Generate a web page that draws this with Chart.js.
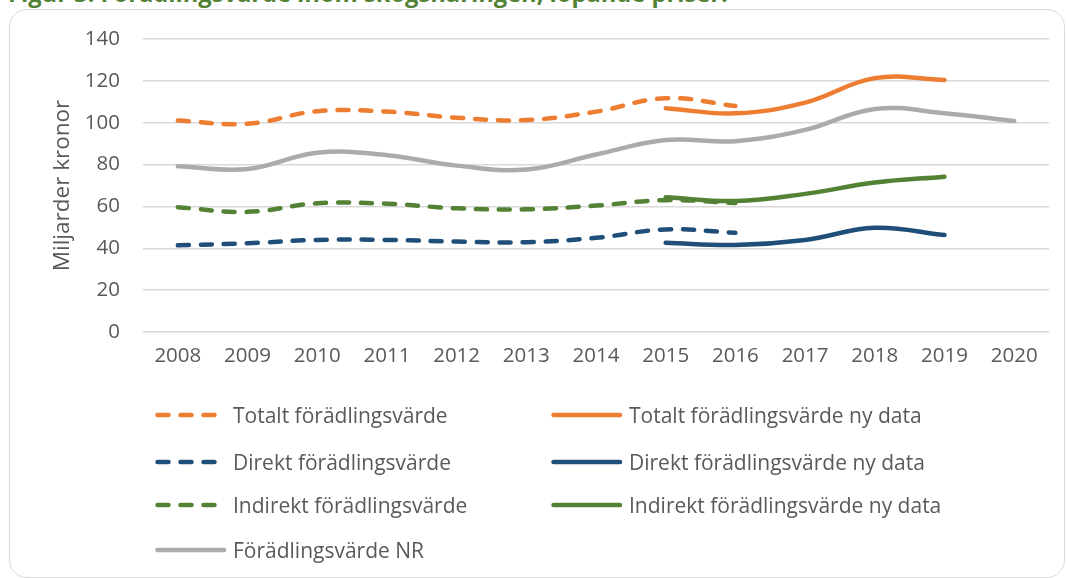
<!DOCTYPE html>
<html>
<head>
<meta charset="utf-8">
<script src="https://cdn.jsdelivr.net/npm/chart.js@4.4.1/dist/chart.umd.min.js"></script>
<style>
  html, body { margin:0; padding:0; background:#fff; width:1066px; height:578px; overflow:hidden; font-family: "Open Sans", sans-serif; }
  #title { position:absolute; left:8px; top:-22px; font-size:23.7px; line-height:30px; font-weight:bold; color:#548235; white-space:nowrap; font-family:"Open Sans", sans-serif; }
  #frame { position:absolute; left:9px; top:9px; width:1056px; height:569px; border:1.5px solid #d9d9d9; border-radius:18px; box-sizing:border-box; }
  #wrap { position:absolute; left:0; top:0; width:1066px; height:400px; }
  #legend { position:absolute; left:0; top:0; width:1066px; height:578px; pointer-events:none; }
  .li { position:absolute; height:26px; font-size:21px; line-height:26px; color:#595959; white-space:nowrap; }
  .li canvas { position:absolute; top:8px; }
  .li span { position:absolute; top:0; }
</style>
</head>
<body>
<div id="title">Figur 3. Förädlingsvärde inom skogsnäringen, löpande priser.</div>
<div id="frame"></div>
<div id="wrap"><canvas id="c" width="1066" height="400"></canvas></div>
<div id="legend"></div>
<script>
const years = ['2008','2009','2010','2011','2012','2013','2014','2015','2016','2017','2018','2019','2020'];
const yTicks = [0,20,40,60,80,100,120,140];
const totalt       = [101, 99.5, 105.5, 105.3, 102.4, 101.3, 105.3, 111.7, 108, null, null, null, null];
const totaltNy     = [null, null, null, null, null, null, null, 106.9, 104.5, 109.6, 121.3, 120.4, null];
const direkt       = [41.4, 42.4, 44, 44, 43.2, 42.9, 45, 49, 47.4, null, null, null, null];
const direktNy     = [null, null, null, null, null, null, null, 42.6, 41.6, 44, 49.8, 46.3, null];
const indirekt     = [59.6, 57.4, 61.5, 61.3, 59.1, 58.6, 60.4, 63, 61.6, null, null, null, null];
const indirektNy   = [null, null, null, null, null, null, null, 64.4, 62.6, 66, 71.4, 74.2, null];
const nr           = [79.2, 77.9, 85.7, 84.5, 79.5, 77.6, 84.8, 91.7, 91.2, 96.6, 106.6, 104.5, 100.8];

const ORANGE = '#ED7D31', BLUE = '#1F4E79', GREEN = '#548235', GRAY = '#AEAAAA';
const DASH = [11, 12];

function ds(label, data, color, dashed, order) {
  return { label, data, borderColor: color, backgroundColor: color, borderWidth: 4.5,
    borderDash: dashed ? DASH : [], borderCapStyle: 'round', borderJoinStyle: 'round',
    pointRadius: 0, pointHoverRadius: 0, tension: 0.4, spanGaps: false, fill: false, order };
}

const datasets = [
  ds('Totalt förädlingsvärde', totalt, ORANGE, true, 1),
  ds('Totalt förädlingsvärde ny data', totaltNy, ORANGE, false, 2),
  ds('Direkt förädlingsvärde', direkt, BLUE, true, 3),
  ds('Direkt förädlingsvärde ny data', direktNy, BLUE, false, 4),
  ds('Indirekt förädlingsvärde', indirekt, GREEN, true, 5),
  ds('Indirekt förädlingsvärde ny data', indirektNy, GREEN, false, 6),
  ds('Förädlingsvärde NR', nr, GRAY, false, 7)
];

const font = { family: '"Open Sans", sans-serif', size: 20.5 };

const chart = new Chart(document.getElementById('c'), {
  type: 'line',
  data: { labels: years, datasets },
  options: {
    responsive: false, animation: false,
    layout: { padding: { left: 49, right: 17, top: 39, bottom: 0 } },
    plugins: { legend: { display: false }, tooltip: { enabled: false } },
    scales: {
      x: {
        offset: true,
        grid: { display: false, drawTicks: false },
        border: { display: false },
        ticks: { color: '#595959', font, padding: 12, maxRotation: 0, autoSkip: false },
        afterFit(s) { s.height = 400 - 332; }
      },
      y: {
        min: 0, max: 140,
        afterBuildTicks(s) { s.ticks = yTicks.map(v => ({ value: v })); },
        grid: { color: '#d9d9d9', lineWidth: 1.5, drawTicks: false },
        border: { display: false },
        ticks: { color: '#595959', font, padding: 23 },
        title: { display: true, text: 'Miljarder kronor', color: '#595959', font: { family: font.family, size: 22.5 }, padding: 0 },
        afterFit(s) { s.width = 143 - 49; }
      }
    }
  }
});

// HTML legend built from the chart's datasets
const legendPos = [
  [157, 415], [553, 415],
  [157, 462], [553, 462],
  [157, 505], [553, 505],
  [157, 550]
];
const leg = document.getElementById('legend');
chart.data.datasets.forEach((d, i) => {
  const item = document.createElement('div');
  item.className = 'li';
  const dashed = d.borderDash && d.borderDash.length;
  const w = dashed ? 66 : 74;
  const textX = 80;
  const cv = document.createElement('canvas');
  cv.width = w; cv.height = 10;
  const g = cv.getContext('2d');
  g.strokeStyle = d.borderColor; g.lineWidth = 4.5; g.lineCap = 'round';
  if (dashed) g.setLineDash(DASH);
  g.beginPath(); g.moveTo(4.5, 5); g.lineTo(w - 3, 5); g.stroke();
  item.appendChild(cv);
  const sp = document.createElement('span');
  sp.textContent = d.label;
  sp.style.left = textX + 'px';
  item.appendChild(sp);
  item.style.left = (legendPos[i][0] - 4) + 'px';
  item.style.top = (legendPos[i][1] - 13) + 'px';
  leg.appendChild(item);
});
</script>
</body>
</html>
